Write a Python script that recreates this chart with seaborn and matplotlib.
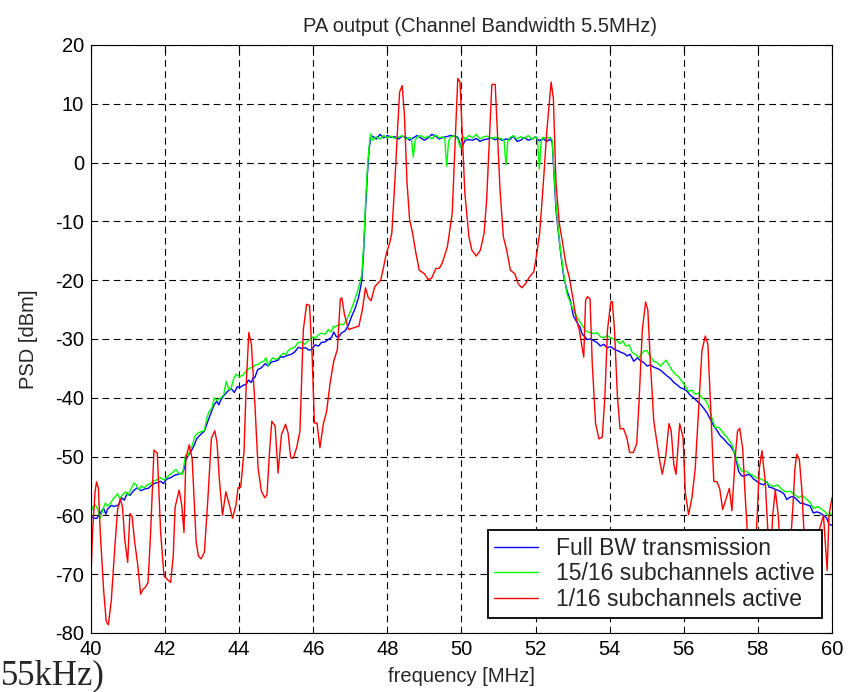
import numpy as np
import pandas as pd
import matplotlib
matplotlib.use("Agg")
import matplotlib.pyplot as plt
import seaborn as sns

# ---------------- data ----------------
freq_full = [40.00, 40.08, 40.16, 40.25, 40.34, 40.40, 40.45, 40.55, 40.62, 40.75, 40.82, 40.90, 40.98, 41.05,
             41.15, 41.25, 41.35, 41.45, 41.55, 41.61, 41.70, 41.80, 41.88, 41.95, 42.05, 42.15, 42.25, 42.35,
             42.47, 42.52, 42.56, 42.65, 42.72, 42.79, 42.85, 42.92, 43.00, 43.06, 43.12, 43.19, 43.26, 43.33,
             43.40, 43.45, 43.51, 43.60, 43.69, 43.78, 43.87, 43.95, 44.01, 44.10, 44.19, 44.25, 44.33, 44.38,
             44.42, 44.50, 44.60, 44.70, 44.78, 44.87, 44.96, 45.05, 45.12, 45.19, 45.30, 45.41, 45.50, 45.60,
             45.68, 45.80, 45.88, 45.95, 46.05, 46.14, 46.22, 46.32, 46.40, 46.50, 46.55, 46.62, 46.68, 46.76,
             46.86, 46.95, 47.04, 47.13, 47.22, 47.31, 47.36, 47.41, 47.46, 47.51, 47.56,
             47.6, 47.7, 47.8, 47.9, 48.0, 48.1, 48.2, 48.3, 48.4, 48.5, 48.6, 48.7, 48.8, 48.9, 49.0, 49.1,
             49.2, 49.3, 49.4, 49.5, 49.6, 49.7, 49.8, 49.9, 50.0, 50.1, 50.2, 50.3, 50.4, 50.5, 50.6, 50.7,
             50.8, 50.9, 51.0, 51.1, 51.2, 51.3, 51.4, 51.5, 51.6, 51.7, 51.8, 51.9, 52.0, 52.1, 52.2, 52.3,
             52.4, 52.45, 52.50, 52.55, 52.60, 52.67, 52.76, 52.85, 52.94, 53.02, 53.12, 53.20, 53.26, 53.33,
             53.39, 53.48, 53.57, 53.66, 53.75, 53.84, 53.93, 54.03, 54.13, 54.22, 54.31, 54.40, 54.47, 54.55,
             54.65, 54.75, 54.83, 54.92, 55.01, 55.10, 55.19, 55.28, 55.37, 55.46, 55.55, 55.64, 55.73, 55.82,
             55.91, 56.00, 56.09, 56.18, 56.27, 56.36, 56.45, 56.54, 56.63, 56.72, 56.81, 56.90, 56.99, 57.08,
             57.17, 57.26, 57.35, 57.42, 57.48, 57.55, 57.62, 57.70, 57.79, 57.88, 57.97, 58.06, 58.15, 58.25,
             58.30, 58.38, 58.48, 58.60, 58.70, 58.78, 58.87, 58.96, 59.05, 59.14, 59.23, 59.32, 59.41, 59.50,
             59.59, 59.68, 59.77, 59.86, 59.92, 60.00]
psd_full = [-60.2, -60.5, -60.5, -59.6, -58.8, -59.8, -58.9, -58.3, -58.5, -58.2, -57.0, -57.4, -56.2, -56.6,
            -55.8, -55.3, -55.8, -55.5, -55.4, -55.0, -54.6, -54.4, -54.2, -54.6, -53.8, -53.6, -53.2, -53.0,
            -52.8, -52.0, -50.5, -49.6, -48.9, -48.0, -47.0, -46.5, -46.0, -45.7, -44.6, -43.4, -42.2, -41.1,
            -40.6, -41.2, -40.3, -39.5, -38.9, -38.4, -39.1, -38.1, -38.3, -37.9, -37.7, -37.0, -37.4, -36.5,
            -36.6, -35.2, -34.9, -34.2, -34.6, -33.9, -33.8, -33.6, -33.0, -33.1, -32.8, -32.6, -32.2, -31.4,
            -31.6, -31.5, -31.9, -31.8, -31.0, -31.2, -30.6, -30.5, -30.1, -29.7, -28.8, -29.6, -29.7, -29.0,
            -28.6, -27.6, -26.1, -24.8, -23.0, -20.1, -15.0, -8.0, -2.0, 2.5, 4.4,
            4.5, 4.0, 4.8, 4.2, 4.6, 4.3, 4.4, 4.0, 4.5, 4.3, 3.8, 4.2, 4.6, 4.2, 3.8, 4.2,
            4.8, 4.5, 4.0, 4.3, 4.4, 4.6, 4.5, 4.3, 2.5, 3.8, 3.9, 3.8, 4.1, 3.6, 3.9, 4.0,
            4.2, 3.9, 4.1, 3.8, 4.0, 3.9, 4.5, 3.6, 3.8, 4.3, 3.8, 4.0, 4.4, 3.7, 4.1, 3.6,
            4.0, 3.4, -2.3, -8.0, -11.0, -15.0, -19.5, -21.8, -23.5, -26.1, -27.2, -28.0, -29.2, -29.6,
            -30.1, -30.0, -30.3, -30.6, -31.2, -30.9, -31.5, -31.3, -31.8, -32.0, -32.3, -32.5, -32.9, -32.6,
            -33.8, -33.2, -33.7, -34.0, -34.6, -34.4, -34.8, -35.0, -35.3, -35.8, -36.3, -36.7, -37.4, -37.8,
            -38.3, -38.5, -38.9, -39.6, -40.0, -40.6, -41.1, -41.8, -42.6, -43.7, -44.8, -45.6, -46.5, -47.0,
            -47.7, -48.2, -49.1, -50.8, -52.5, -53.2, -53.4, -53.1, -53.1, -53.8, -54.2, -54.6, -54.8, -54.3,
            -55.2, -55.3, -55.6, -55.9, -56.3, -57.3, -56.9, -56.8, -57.3, -57.9, -58.0, -58.2, -58.4, -59.6,
            -59.4, -59.6, -60.0, -60.5, -61.5, -61.7]

freq_15 = [40.00, 40.06, 40.12, 40.18, 40.25, 40.32, 40.39, 40.45, 40.52, 40.60, 40.66, 40.72, 40.78, 40.85,
           40.93, 41.00, 41.08, 41.16, 41.22, 41.29, 41.36, 41.44, 41.52, 41.60, 41.68, 41.79, 41.88, 41.97,
           42.06, 42.15, 42.22, 42.29, 42.37, 42.47, 42.52, 42.56, 42.62, 42.68, 42.74, 42.80, 42.88, 42.96,
           43.06, 43.12, 43.19, 43.26, 43.33, 43.40, 43.46, 43.51, 43.58, 43.65, 43.72, 43.78, 43.85, 43.92,
           44.00, 44.10, 44.19, 44.28, 44.36, 44.44, 44.51, 44.58, 44.66, 44.72, 44.78, 44.85, 44.92, 45.00,
           45.05, 45.12, 45.20, 45.26, 45.32, 45.40, 45.50, 45.58, 45.66, 45.77, 45.85, 45.92, 46.00, 46.05,
           46.14, 46.22, 46.32, 46.40, 46.48, 46.55, 46.59, 46.67, 46.75, 46.81, 46.90, 46.97, 47.04, 47.13,
           47.22, 47.31, 47.36, 47.41, 47.46, 47.51, 47.55,
           47.6, 47.7, 47.8, 47.9, 48.0, 48.1, 48.2, 48.3, 48.4, 48.5, 48.6, 48.65, 48.7, 48.75, 48.8, 48.9,
           49.0, 49.1, 49.2, 49.3, 49.4, 49.5, 49.55, 49.6, 49.65, 49.7, 49.8, 49.9, 49.97, 50.05, 50.1, 50.2,
           50.3, 50.4, 50.5, 50.6, 50.7, 50.8, 50.9, 51.0, 51.1, 51.15, 51.2, 51.25, 51.3, 51.4, 51.5, 51.6,
           51.7, 51.8, 51.9, 52.0, 52.05, 52.1, 52.15, 52.2, 52.3, 52.4,
           52.45, 52.50, 52.55, 52.60, 52.67, 52.76, 52.85, 52.94, 53.03, 53.12, 53.21, 53.28, 53.35, 53.42,
           53.48, 53.57, 53.66, 53.75, 53.84, 53.93, 54.02, 54.11, 54.20, 54.28, 54.36, 54.43, 54.52, 54.61,
           54.70, 54.79, 54.87, 54.94, 55.01, 55.10, 55.19, 55.28, 55.37, 55.46, 55.52, 55.59, 55.68, 55.77,
           55.86, 55.95, 56.04, 56.13, 56.22, 56.31, 56.40, 56.49, 56.58, 56.67, 56.76, 56.85, 56.94, 57.03,
           57.12, 57.21, 57.30, 57.39, 57.48, 57.57, 57.66, 57.75, 57.86, 57.97, 58.08, 58.20, 58.31, 58.42,
           58.53, 58.65, 58.76, 58.87, 58.98, 59.10, 59.20, 59.32, 59.41, 59.50, 59.62, 59.73, 59.82, 59.90,
           59.95, 60.00]
psd_15 = [-59.3, -58.5, -58.2, -59.0, -60.5, -59.0, -57.9, -58.4, -58.0, -57.2, -56.8, -56.3, -57.2, -56.5,
          -56.0, -56.6, -55.5, -54.5, -54.8, -55.6, -55.0, -55.3, -54.8, -54.6, -54.2, -53.9, -53.6, -54.0,
          -53.4, -53.0, -52.6, -52.2, -52.8, -53.0, -51.0, -49.7, -49.8, -48.8, -48.0, -46.6, -46.0, -45.8,
          -45.6, -43.6, -42.3, -41.8, -40.0, -40.5, -40.2, -40.0, -39.5, -37.2, -38.6, -38.4, -36.8, -36.0,
          -36.4, -36.2, -35.4, -35.0, -34.8, -34.4, -34.3, -34.0, -33.8, -33.2, -34.5, -33.6, -33.2, -33.5,
          -33.3, -32.8, -32.4, -32.7, -32.0, -31.6, -31.4, -30.7, -30.5, -30.9, -30.4, -30.0, -29.6, -29.9,
          -29.3, -29.0, -29.2, -28.4, -28.8, -27.8, -28.0, -27.6, -27.5, -27.6, -26.8, -25.8, -24.7, -23.2,
          -21.3, -19.0, -14.0, -7.0, -1.0, 3.0, 4.9,
          3.8, 4.4, 4.0, 4.6, 4.2, 4.5, 4.1, 4.3, 4.6, 4.0, 4.3, 4.0, 0.9, 3.8, 4.3, 4.6,
          4.2, 4.5, 4.0, 4.7, 4.2, 4.4, 4.0, -0.6, 3.5, 4.3, 4.6, 4.0, 2.5, 4.5, 3.9, 4.6,
          4.2, 4.8, 4.0, 4.4, 4.5, 4.1, 4.3, 4.2, 4.0, 3.8, -0.4, 3.6, 4.2, 4.6, 4.0, 4.4,
          4.1, 4.6, 4.0, 4.4, 4.0, -1.1, 3.5, 4.3, 4.1, 4.3,
          3.8, -1.5, -7.0, -10.5, -14.8, -19.0, -22.4, -23.8, -25.2, -26.3, -27.2, -27.9, -28.6, -28.8,
          -28.9, -29.1, -28.9, -29.6, -29.8, -29.4, -29.8, -30.0, -30.3, -30.8, -30.3, -31.2, -31.0, -32.3,
          -32.6, -33.2, -32.4, -32.0, -32.0, -33.0, -33.8, -34.0, -34.6, -34.0, -33.6, -34.3, -35.3, -36.0,
          -36.4, -37.2, -38.0, -38.9, -38.7, -39.4, -39.2, -40.0, -40.4, -41.4, -43.5, -45.1, -45.0, -45.7,
          -46.4, -47.1, -48.0, -49.7, -51.6, -52.5, -52.4, -52.8, -53.2, -53.6, -53.8, -54.2, -54.8, -55.1,
          -54.8, -55.6, -56.0, -55.9, -56.4, -57.0, -56.6, -57.3, -57.8, -58.8, -58.5, -59.0, -59.4, -60.2,
          -59.6, -59.9]

freq_1 = [40.00, 40.04, 40.11, 40.15, 40.20, 40.25, 40.34, 40.41, 40.47, 40.55, 40.64, 40.72, 40.79, 40.85,
          40.91, 40.99, 41.05, 41.11, 41.18, 41.26, 41.34, 41.40, 41.47, 41.54, 41.61, 41.70, 41.79, 41.88,
          41.97, 42.06, 42.15, 42.22, 42.27, 42.38, 42.45, 42.51, 42.56, 42.65, 42.73, 42.84, 42.90, 42.97,
          43.06, 43.15, 43.25, 43.34, 43.40, 43.47, 43.55, 43.64, 43.75, 43.82, 43.91, 43.97, 44.04, 44.13,
          44.19, 44.26, 44.33, 44.42, 44.51, 44.60, 44.69, 44.75, 44.82, 44.88, 44.97, 45.05, 45.14, 45.25,
          45.32, 45.39, 45.46, 45.55, 45.64, 45.73, 45.82, 45.90, 45.97, 46.03, 46.10, 46.18, 46.27, 46.36,
          46.45, 46.55, 46.65, 46.73, 46.77, 46.84, 46.95, 47.09, 47.23, 47.32, 47.41, 47.48, 47.56, 47.66,
          47.75, 47.82, 47.88, 47.97, 48.06, 48.12, 48.20, 48.27, 48.33, 48.40, 48.46, 48.53, 48.60, 48.68,
          48.77, 48.86, 49.00, 49.10, 49.19, 49.31, 49.40, 49.48, 49.62, 49.75, 49.84, 49.90, 49.96, 50.02,
          50.09, 50.20, 50.28, 50.40, 50.51, 50.61, 50.68, 50.76, 50.82, 50.91, 50.97, 51.04, 51.13, 51.22,
          51.32, 51.44, 51.53, 51.63, 51.73, 51.84, 51.95, 52.02, 52.11, 52.21, 52.30, 52.42, 52.48, 52.55,
          52.64, 52.73, 52.82, 52.91, 53.00, 53.09, 53.18, 53.24, 53.30, 53.35, 53.40, 53.47, 53.53, 53.62,
          53.71, 53.80, 53.87, 53.94, 54.03, 54.07, 54.13, 54.21, 54.28, 54.37, 54.46, 54.54, 54.64, 54.73,
          54.79, 54.88, 54.97, 55.03, 55.10, 55.19, 55.28, 55.35, 55.42, 55.51, 55.60, 55.66, 55.73, 55.79,
          55.89, 55.98, 56.04, 56.13, 56.22, 56.31, 56.40, 56.49, 56.58, 56.65, 56.73, 56.81, 56.90, 56.97,
          57.05, 57.14, 57.23, 57.30, 57.39, 57.45, 57.51, 57.59, 57.66, 57.72, 57.80, 57.88, 57.95, 58.04,
          58.11, 58.20, 58.28, 58.34, 58.40, 58.47, 58.55, 58.62, 58.72, 58.85, 58.95, 59.00, 59.05, 59.12,
          59.19, 59.25, 59.35, 59.47, 59.58, 59.68, 59.77, 59.83, 59.87, 59.92, 60.00]
psd_1 = [-70.3, -63.0, -56.0, -54.3, -55.4, -62.9, -72.6, -78.0, -78.6, -74.3, -65.7, -58.9, -57.2, -58.5,
         -64.0, -68.0, -59.7, -60.2, -64.6, -68.3, -73.4, -72.6, -72.2, -71.4, -62.9, -48.9, -49.4, -62.9,
         -70.3, -70.9, -71.4, -66.9, -58.6, -55.7, -58.3, -62.9, -50.3, -48.0, -50.3, -64.6, -66.9, -67.4,
         -66.3, -57.7, -46.9, -45.6, -47.5, -54.3, -60.0, -56.0, -58.6, -60.5, -58.3, -55.3, -55.2, -49.2,
         -37.7, -28.9, -30.9, -40.6, -52.0, -55.9, -57.0, -56.5, -49.1, -44.0, -44.8, -52.8, -46.3, -44.5,
         -46.0, -50.2, -50.3, -48.5, -45.7, -28.5, -24.1, -24.3, -33.0, -44.3, -44.3, -48.5, -44.5, -42.3,
         -37.7, -33.8, -31.8, -23.2, -23.0, -25.8, -28.4, -28.1, -27.8, -25.2, -21.3, -22.9, -23.5, -21.1,
         -20.5, -20.0, -18.3, -15.5, -13.7, -12.0, -3.4, 5.1, 12.0, 13.1, 8.0, -3.4, -9.7, -12.0,
         -15.4, -18.3, -18.9, -19.9, -19.7, -18.0, -18.0, -17.1, -14.3, -8.6, 5.1, 14.3, 13.7, 5.1,
         -5.1, -12.6, -14.9, -15.9, -14.9, -12.0, -6.3, 5.1, 13.3, 13.3, 5.1, -4.6, -12.6, -14.9,
         -18.3, -18.9, -20.6, -21.3, -20.6, -19.4, -18.6, -16.0, -12.0, -3.4, 5.1, 13.7, 10.9, -3.4,
         -10.3, -13.7, -17.3, -19.5, -22.8, -26.3, -28.5, -30.8, -33.1, -23.4, -22.8, -23.2, -34.2, -44.4,
         -47.0, -46.7, -39.9, -28.5, -23.7, -23.6, -28.5, -39.9, -45.3, -45.2, -46.7, -49.3, -49.3, -47.8,
         -41.0, -28.5, -23.7, -25.1, -34.2, -43.9, -47.8, -50.7, -53.0, -50.1, -44.4, -45.6, -51.3, -53.0,
         -44.4, -46.7, -56.0, -59.9, -57.0, -52.0, -42.0, -32.0, -29.5, -30.9, -42.3, -54.2, -54.3, -55.5,
         -59.0, -57.2, -55.4, -59.2, -50.0, -45.7, -45.2, -48.6, -57.0, -63.3, -68.0, -70.0, -64.0, -52.0,
         -49.0, -54.3, -64.0, -68.0, -60.0, -55.7, -60.0, -68.0, -72.0, -68.0, -58.0, -52.0, -49.6, -50.5,
         -56.0, -63.5, -70.0, -68.0, -64.0, -62.0, -60.0, -65.7, -69.4, -60.0, -57.0]

series_labels = ["Full BW transmission", "15/16 subchannels active", "1/16 subchannels active"]
series_colors = ["#0000ff", "#00ff00", "#ff0000"]
x_ticks = list(range(40, 61, 2))
y_ticks = list(range(-80, 21, 10))

# ---------------- style ----------------
sns.set_style("white")
plt.rcParams['font.family'] = ['Liberation Sans', 'DejaVu Sans']
plt.rcParams['axes.unicode_minus'] = False

fig = plt.figure(figsize=(8.48, 6.92), dpi=100)
ax = fig.add_axes([0.1073, 0.0853, 0.8738, 0.8497])

for fr, ps, lab, col in zip([freq_full, freq_15, freq_1], [psd_full, psd_15, psd_1],
                            series_labels, series_colors):
    df = pd.DataFrame({"frequency": fr, "psd": ps})
    sns.lineplot(data=df, x="frequency", y="psd", color=col, linewidth=1.0, label=lab,
                 ax=ax, estimator=None, sort=False)

ax.set_xlim(40, 60)
ax.set_ylim(-80, 20)
ax.set_xticks(x_ticks)
ax.set_yticks(y_ticks)
ax.grid(True, color='black', linestyle=(0, (6, 4)), linewidth=0.8)
ax.set_axisbelow(True)
ax.tick_params(direction='in', top=True, right=True, length=5, width=0.8,
               labelsize=14.5, colors='black', pad=5)
for sp in ax.spines.values():
    sp.set_color('black')
    sp.set_linewidth(0.8)

ax.set_title("PA output (Channel Bandwidth 5.5MHz)", fontsize=14.5, x=0.525, pad=9)
ax.set_xlabel("frequency [MHz]", fontsize=14.5, labelpad=6)
ax.set_ylabel("PSD [dBm]", fontsize=14.5, labelpad=12)

leg = ax.legend(loc='lower right', bbox_to_anchor=(0.9865, 0.0255), borderaxespad=0,
                fontsize=16.5, frameon=True, fancybox=False, framealpha=1,
                edgecolor='black', handlelength=1.9, handletextpad=0.8,
                labelspacing=0.12, borderpad=0.3)
leg.get_frame().set_linewidth(1.3)

# fragment of surrounding document text visible in the bottom-left corner
fig.text(0.001, 1 - 684 / 692, "55kHz)", family=['Liberation Serif', 'DejaVu Serif'],
         fontsize=25, va='baseline', ha='left')

fig.savefig("out.png", dpi=100, facecolor='white')
